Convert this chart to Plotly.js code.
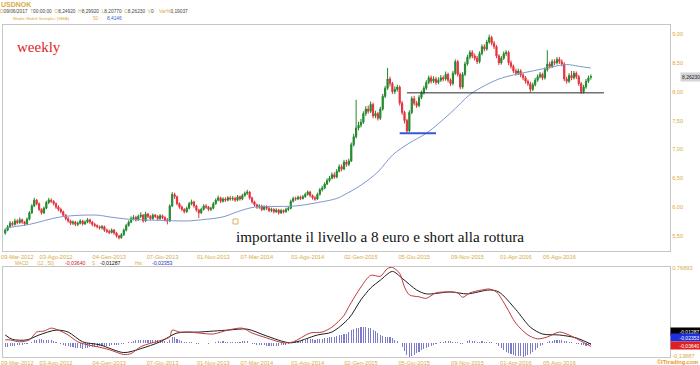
<!DOCTYPE html>
<html>
<head>
<meta charset="utf-8">
<script src="https://cdn.plot.ly/plotly-3.0.1.min.js"></script>
<style>html,body{margin:0;padding:0;background:#fff;}#chart{width:700px;height:365px;}</style>
</head>
<body>
<div id="chart"></div>
<script>
// ---------- DATA (weekly USDNOK) ----------
const open = [
5.55,5.60,5.66,5.72,5.70,5.76,5.73,5.78,5.74,5.71,
5.79,5.90,6.02,6.12,6.06,5.96,5.90,5.98,6.08,6.12,
6.10,6.06,6.00,5.96,5.92,5.86,5.80,5.76,5.72,5.74,
5.70,5.72,5.76,5.71,5.74,5.78,5.74,5.70,5.68,5.66,
5.64,5.66,5.60,5.58,5.56,5.60,5.55,5.50,5.47,5.52,
5.60,5.68,5.74,5.80,5.82,5.78,5.84,5.86,5.76,5.88,
5.84,5.80,5.86,5.84,5.80,5.85,5.82,5.78,5.76,6.02,
6.22,6.18,6.06,6.00,5.96,5.92,5.98,6.06,6.09,6.02,
5.95,5.90,5.96,6.02,6.00,5.96,5.98,6.06,6.12,6.16,
6.10,6.14,6.12,6.16,6.14,6.15,6.12,6.18,6.14,6.20,
6.24,6.26,6.16,6.09,6.04,6.00,6.02,5.96,6.00,5.98,
5.94,5.96,5.92,5.95,5.90,5.94,5.92,5.96,5.98,6.10,
6.15,6.14,6.17,6.15,6.18,6.22,6.26,6.20,6.16,6.14,
6.22,6.30,6.33,6.40,6.46,6.50,6.56,6.52,6.62,6.70,
6.66,6.78,6.74,6.80,7.08,7.22,7.37,7.42,7.47,7.62,
7.70,7.66,7.78,7.58,7.62,7.54,7.70,7.92,8.06,8.22,
8.14,8.00,8.04,8.08,7.80,7.64,7.50,7.32,7.64,7.88,
7.80,7.76,7.90,7.98,8.06,8.16,8.24,8.18,8.22,8.16,
8.20,8.24,8.22,8.30,8.20,8.14,8.32,8.52,8.30,8.08,
8.30,8.48,8.60,8.68,8.62,8.58,8.52,8.66,8.78,8.74,
8.86,8.94,8.84,8.78,8.62,8.50,8.58,8.66,8.68,8.50,
8.44,8.36,8.32,8.36,8.29,8.24,8.18,8.14,8.04,8.12,
8.20,8.26,8.30,8.24,8.38,8.48,8.44,8.52,8.50,8.56,
8.52,8.48,8.22,8.18,8.28,8.24,8.32,8.26,8.14,8.00,
8.08,8.18,8.2492];
const high = [
5.63,5.69,5.76,5.75,5.80,5.79,5.82,5.80,5.76,5.82,
5.93,6.05,6.16,6.14,6.08,5.98,6.01,6.11,6.16,6.15,
6.12,6.08,6.03,5.99,5.94,5.88,5.83,5.78,5.77,5.76,
5.75,5.79,5.78,5.77,5.81,5.80,5.76,5.73,5.70,5.68,
5.69,5.68,5.63,5.61,5.63,5.62,5.57,5.52,5.55,5.63,
5.71,5.77,5.84,5.86,5.85,5.87,5.91,5.88,5.92,5.90,
5.86,5.89,5.88,5.86,5.88,5.87,5.84,5.81,6.05,6.26,
6.25,6.20,6.08,6.03,5.98,6.01,6.09,6.13,6.11,6.04,
5.97,5.99,6.05,6.05,6.02,6.01,6.09,6.15,6.20,6.18,
6.17,6.17,6.19,6.19,6.19,6.18,6.21,6.20,6.23,6.27,
6.30,6.28,6.18,6.11,6.06,6.05,6.04,6.03,6.03,6.00,
5.99,5.98,5.98,5.97,5.97,5.96,5.99,6.01,6.13,6.18,
6.18,6.20,6.20,6.21,6.25,6.29,6.28,6.22,6.19,6.25,
6.33,6.37,6.43,6.50,6.54,6.60,6.60,6.66,6.74,6.74,
6.82,6.82,6.84,7.12,7.27,7.86,7.48,7.53,7.66,7.75,
7.76,7.83,7.81,7.67,7.65,7.74,7.96,8.10,8.41,8.26,
8.17,8.09,8.12,8.11,7.84,7.67,7.53,7.68,7.92,7.93,
7.84,7.94,8.02,8.10,8.20,8.28,8.28,8.27,8.26,8.25,
8.29,8.28,8.35,8.33,8.23,8.36,8.56,8.55,8.33,8.34,
8.52,8.64,8.72,8.72,8.66,8.62,8.70,8.82,8.82,8.90,
8.99,8.97,8.88,8.81,8.65,8.62,8.70,8.72,8.71,8.54,
8.47,8.40,8.40,8.39,8.32,8.27,8.21,8.17,8.16,8.24,
8.30,8.34,8.33,8.42,8.72,8.52,8.56,8.56,8.60,8.60,
8.56,8.51,8.26,8.32,8.36,8.36,8.35,8.29,8.17,8.12,
8.22,8.28,8.2992];
const low = [
5.52,5.58,5.64,5.67,5.68,5.70,5.71,5.71,5.68,5.69,
5.77,5.88,6.00,6.03,5.93,5.87,5.88,5.96,6.05,6.07,
6.03,5.97,5.93,5.89,5.83,5.77,5.73,5.69,5.69,5.67,
5.67,5.70,5.68,5.69,5.72,5.71,5.67,5.65,5.63,5.61,
5.61,5.57,5.55,5.53,5.54,5.52,5.47,5.44,5.45,5.50,
5.58,5.66,5.72,5.77,5.75,5.76,5.81,5.73,5.74,5.81,
5.77,5.78,5.81,5.77,5.78,5.79,5.75,5.70,5.74,6.00,
6.14,6.03,5.97,5.93,5.89,5.90,5.96,6.03,5.99,5.92,
5.81,5.88,5.94,5.97,5.93,5.93,5.96,6.04,6.10,6.07,
6.08,6.09,6.10,6.11,6.11,6.09,6.10,6.11,6.12,6.18,
6.21,6.13,6.06,6.01,5.97,5.97,5.93,5.94,5.95,5.91,
5.91,5.89,5.90,5.87,5.88,5.89,5.90,5.93,5.96,6.08,
6.11,6.12,6.12,6.13,6.16,6.20,6.17,6.13,6.11,6.12,
6.20,6.27,6.31,6.38,6.43,6.48,6.49,6.50,6.60,6.62,
6.64,6.70,6.71,6.78,7.05,7.19,7.33,7.38,7.44,7.58,
7.62,7.63,7.54,7.54,7.50,7.51,7.67,7.89,8.03,8.09,
7.96,7.96,8.00,7.76,7.60,7.45,7.28,7.30,7.61,7.76,
7.72,7.73,7.87,7.95,8.03,8.13,8.14,8.15,8.12,8.13,
8.17,8.18,8.19,8.16,8.10,8.11,8.29,8.26,8.04,8.05,
8.27,8.45,8.56,8.58,8.54,8.48,8.49,8.63,8.70,8.71,
8.83,8.80,8.74,8.58,8.46,8.47,8.55,8.62,8.46,8.40,
8.32,8.28,8.29,8.25,8.20,8.14,8.10,7.99,8.01,8.09,
8.17,8.23,8.20,8.21,8.35,8.40,8.41,8.46,8.47,8.48,
8.44,8.18,8.14,8.15,8.20,8.21,8.22,8.10,7.96,7.97,
8.05,8.15,8.2077];
const close = [
5.60,5.66,5.72,5.70,5.76,5.73,5.78,5.74,5.71,5.79,
5.90,6.02,6.12,6.06,5.96,5.90,5.98,6.08,6.12,6.10,
6.06,6.00,5.96,5.92,5.86,5.80,5.76,5.72,5.74,5.70,
5.72,5.76,5.71,5.74,5.78,5.74,5.70,5.68,5.66,5.64,
5.66,5.60,5.58,5.56,5.60,5.55,5.50,5.47,5.52,5.60,
5.68,5.74,5.80,5.82,5.78,5.84,5.86,5.76,5.88,5.84,
5.80,5.86,5.84,5.80,5.85,5.82,5.78,5.76,6.02,6.22,
6.18,6.06,6.00,5.96,5.92,5.98,6.06,6.09,6.02,5.95,
5.90,5.96,6.02,6.00,5.96,5.98,6.06,6.12,6.16,6.10,
6.14,6.12,6.16,6.14,6.15,6.12,6.18,6.14,6.20,6.24,
6.26,6.16,6.09,6.04,6.00,6.02,5.96,6.00,5.98,5.94,
5.96,5.92,5.95,5.90,5.94,5.92,5.96,5.98,6.10,6.15,
6.14,6.17,6.15,6.18,6.22,6.26,6.20,6.16,6.14,6.22,
6.30,6.33,6.40,6.46,6.50,6.56,6.52,6.62,6.70,6.66,
6.78,6.74,6.80,7.08,7.22,7.37,7.42,7.47,7.62,7.70,
7.66,7.78,7.58,7.62,7.54,7.70,7.92,8.06,8.22,8.14,
8.00,8.04,8.08,7.80,7.64,7.50,7.32,7.64,7.88,7.80,
7.76,7.90,7.98,8.06,8.16,8.24,8.18,8.22,8.16,8.20,
8.24,8.22,8.30,8.20,8.14,8.32,8.52,8.30,8.08,8.30,
8.48,8.60,8.68,8.62,8.58,8.52,8.66,8.78,8.74,8.86,
8.94,8.84,8.78,8.62,8.50,8.58,8.66,8.68,8.50,8.44,
8.36,8.32,8.36,8.29,8.24,8.18,8.14,8.04,8.12,8.20,
8.26,8.30,8.24,8.38,8.48,8.44,8.52,8.50,8.56,8.52,
8.48,8.22,8.18,8.28,8.24,8.32,8.26,8.14,8.00,8.08,
8.18,8.24,8.2623];

// SMA 50 (sampled points along the drawn curve: week index / value)
const smaIdx = [0,1,10,23,38,43,51,56,64,75,81,90,96,103,110,120,128,137,140,147,154,160,167,174,184,192,197,204,210,218,226,232,237,242];
const smaVal = [5.62,5.64,5.70,5.83,5.86,5.83,5.79,5.78,5.77,5.76,5.78,5.83,5.92,6.00,6.01,6.02,6.07,6.15,6.21,6.38,6.61,6.90,7.11,7.28,7.63,7.95,8.08,8.22,8.29,8.36,8.43,8.47,8.44,8.41];

// MACD (12,50) line, signal line (sampled), histogram (weekly)
const macdIdx = [0,2,6,10,13,16,19,22,26,30,34,38,43,49,52,56,60,65,68,69,72,76,80,86,92,98,102,108,115,119,126,131,135,140,142,147,151,155,158,160,163,165,167,171,174,178,184,187,189,192,197,200,203,207,211,216,220,224,229,233,237,242];
const macdVal = [0.03,0.03,0.01,0.03,0.11,0.12,0.15,0.13,0.08,0.01,-0.02,-0.04,-0.07,-0.12,-0.11,-0.04,-0.005,0.03,0.06,0.13,0.11,0.11,0.10,0.09,0.13,0.15,0.10,0.05,0.00,0.01,0.10,0.11,0.16,0.28,0.37,0.57,0.69,0.68,0.76,0.77,0.71,0.57,0.49,0.47,0.455,0.51,0.52,0.51,0.465,0.51,0.54,0.55,0.52,0.37,0.20,0.08,0.04,0.06,0.11,0.08,0.03,-0.0364];
const sigIdx = [0,3,9,14,21,26,32,39,49,56,64,71,80,92,100,108,118,129,135,142,147,151,155,160,164,170,174,184,191,200,204,211,217,222,229,236,242];
const sigVal = [0.08,0.035,0.03,0.08,0.13,0.11,0.01,-0.02,-0.10,-0.06,0.01,0.10,0.11,0.13,0.14,0.07,0.00,0.08,0.11,0.25,0.44,0.56,0.64,0.73,0.66,0.54,0.50,0.52,0.50,0.54,0.52,0.34,0.16,0.09,0.08,0.05,-0.0129];
const hist = [
-0.04,-0.04,-0.035,-0.03,-0.03,-0.025,-0.02,-0.02,-0.015,-0.01,
0.0,0.01,0.025,0.03,0.035,0.035,0.03,0.03,0.03,0.025,
0.02,0.01,0.0,-0.01,-0.02,-0.03,-0.035,-0.04,-0.045,-0.05,
-0.055,-0.055,-0.06,-0.055,-0.05,-0.045,-0.045,-0.04,-0.04,-0.035,
-0.035,-0.03,-0.03,-0.03,-0.025,-0.025,-0.02,-0.02,-0.015,-0.01,
-0.005,0.005,0.01,0.02,0.025,0.03,0.03,0.025,0.03,0.03,
0.025,0.03,0.03,0.025,0.02,0.02,0.015,0.01,0.03,0.06,
0.055,0.04,0.03,0.02,0.01,0.005,0.005,0.01,0.0,-0.01,
-0.01,-0.005,0.0,0.0,-0.01,-0.005,0.0,0.01,0.015,0.01,
0.015,0.01,0.01,0.01,0.01,0.005,0.01,0.01,0.015,0.015,
0.015,0.0,-0.01,-0.015,-0.02,-0.02,-0.025,-0.025,-0.03,-0.03,
-0.03,-0.03,-0.03,-0.03,-0.025,-0.02,-0.02,-0.01,0.0,0.01,
0.015,0.02,0.02,0.025,0.03,0.035,0.04,0.035,0.03,0.035,
0.04,0.04,0.045,0.05,0.055,0.06,0.06,0.07,0.075,0.08,
0.09,0.095,0.11,0.13,0.14,0.15,0.155,0.16,0.165,0.16,
0.155,0.15,0.13,0.12,0.10,0.08,0.07,0.06,0.06,0.055,
0.05,0.03,0.02,0.0,-0.04,-0.08,-0.12,-0.14,-0.13,-0.12,
-0.10,-0.09,-0.07,-0.06,-0.05,-0.04,-0.03,-0.02,-0.01,0.0,
0.005,0.01,0.015,0.02,0.015,0.01,0.01,0.005,-0.01,-0.01,
0.0,0.02,0.025,0.02,0.015,0.01,0.01,0.015,0.01,0.01,
0.01,0.005,0.0,-0.01,-0.03,-0.05,-0.07,-0.09,-0.10,-0.11,
-0.12,-0.13,-0.13,-0.13,-0.14,-0.13,-0.12,-0.11,-0.09,-0.07,
-0.05,-0.03,-0.02,0.0,0.01,0.015,0.02,0.025,0.03,0.03,
0.025,0.02,0.015,0.01,0.005,-0.005,-0.01,-0.015,-0.02,-0.025,
-0.03,-0.025,-0.02353];

// Hand-drawn levels (week index / price)
const supportX = [163, 178], supportY = [7.28, 7.28];
const levelX = [166, 247.4], levelY = [7.98, 7.98];

// Axis ticks
const tickIdx  = [21, 43, 65, 86, 104, 125, 147, 169, 191, 211, 229];
const tickText = ['03-Ago-2012','04-Gen-2013','07-Giu-2013','01-Nov-2013','07-Mar-2014','01-Ago-2014','02-Gen-2015','05-Giu-2015','09-Nov-2015','01-Apr-2016','05-Ago-2016'];
const firstTick = '09-Mar-2012';
const priceTicks = [5.5, 6.0, 6.5, 7.0, 7.5, 8.0, 8.5, 9.0];
const macdTicks = [-0.13887, 0.76893];
const macdTickText = ['-0,13887', '0,76893'];

// ---------- LAYOUT HELPERS ----------
const W = 700, H = 365;
const M = {l: 3, r: 30, t: 25, b: 8};
const PW = W - M.l - M.r, PH = H - M.t - M.b;
const px = x => (x - M.l) / PW;
const py = y => (H - M.b - y) / PH;

const GOLD = '#d9aa45';
const SANS = 'Liberation Sans, Arial, sans-serif';
const SERIF = 'Liberation Serif, Times New Roman, serif';
const idx = close.map((_, i) => i);

const traces = [
  {type: 'scatter', mode: 'lines', x: smaIdx, y: smaVal, xaxis: 'x', yaxis: 'y',
   line: {color: '#7d97cc', width: 1, shape: 'spline', smoothing: 1}, hoverinfo: 'skip'},
  {type: 'candlestick', x: idx, open: open, high: high, low: low, close: close,
   xaxis: 'x', yaxis: 'y', whiskerwidth: 0,
   increasing: {line: {color: '#22882c', width: 1}, fillcolor: '#22882c'},
   decreasing: {line: {color: '#e5323c', width: 1}, fillcolor: '#e5323c'},
   hoverinfo: 'skip'},
  {type: 'scatter', mode: 'lines', x: levelX, y: levelY, xaxis: 'x', yaxis: 'y',
   line: {color: '#2a2a2a', width: 1}, hoverinfo: 'skip'},
  {type: 'scatter', mode: 'lines', x: supportX, y: supportY, xaxis: 'x', yaxis: 'y',
   line: {color: '#3558d6', width: 2}, hoverinfo: 'skip'},
  {type: 'bar', x: idx, y: hist, xaxis: 'x2', yaxis: 'y2', width: 0.45,
   marker: {color: '#7c7cca', line: {width: 0}}, hoverinfo: 'skip'},
  {type: 'scatter', mode: 'lines', x: sigIdx, y: sigVal, xaxis: 'x2', yaxis: 'y2',
   line: {color: '#1e1e1e', width: 1, shape: 'spline', smoothing: 0.8}, hoverinfo: 'skip'},
  {type: 'scatter', mode: 'lines', x: macdIdx, y: macdVal, xaxis: 'x2', yaxis: 'y2',
   line: {color: '#c03a3a', width: 1, shape: 'spline', smoothing: 0.8}, hoverinfo: 'skip'}
];

const axisFont = {family: SANS, size: 5.7, color: GOLD};
const xBase = {
  range: [-0.91, 274.7], tickvals: tickIdx, ticktext: tickText, tickfont: axisFont,
  showgrid: false, zeroline: false, showline: true, mirror: true, linecolor: '#c6c6c6',
  linewidth: 1, ticks: '', fixedrange: true, rangeslider: {visible: false}, tickangle: 0
};
const yBase = {
  side: 'right', showgrid: false, zeroline: false, showline: true, mirror: true,
  linecolor: '#c6c6c6', linewidth: 1, ticks: '', fixedrange: true, tickfont: axisFont
};

const g = s => '<span style="color:' + GOLD + '">' + s + '</span>';
const gap = '&nbsp;&nbsp;';
const headerLine = g('D') + '09/06/2017' + gap + g('T') + '00:00:00' + gap + g('O') + '8,24920' + gap +
  g('H') + '8,29920' + gap + g('L') + '8,20770' + gap + g('C') + '8,26230' + gap + g('V') + '0' +
  gap + gap + g('Var%') + '0,19037';

// text annotations: [text, color, xpx, ypx, size, bold, family]
const texts = [
  ['USDNOK', GOLD, 0, 4.5, 7, true],
  [headerLine, '#444', -1, 12, 4.8],
  ['Medie Mobili Semplici (SMA)', GOLD, 12, 18.5, 4.4],
  ['50 :', GOLD, 92, 18.5, 4.6], ['8,4146', '#3a5cc0', 106, 18.5, 4.8],
  ['MACD', GOLD, 14, 263, 4.6], ['(12 , 50) :', GOLD, 36, 263, 4.6],
  ['-0,03640', '#cc2222', 64, 263, 5.2], ['S :', GOLD, 91, 263, 4.6],
  ['-0,01287', '#111', 99, 263, 5.2], ['Hst :', GOLD, 134, 263, 4.6],
  ['-0,02353', '#2035c0', 151, 263, 5.2],
  ['weekly', '#e0231f', 16, 47, 15, false, SERIF],
  ['importante il livello a 8 euro e short alla rottura', '#111', 235, 237, 15.2, false, SERIF]
];
const annotations = texts.map(t => ({
  xref: 'paper', yref: 'paper', x: px(t[2]), y: py(t[3]), xanchor: 'left', yanchor: 'middle',
  text: t[5] ? '<b>' + t[0] + '</b>' : t[0], showarrow: false, borderpad: 0,
  font: {family: t[6] || SANS, size: t[4], color: t[1]}
}));
// first date label on both panels (kept fully visible at the left edge)
[256.5, 362.5].forEach(yy => annotations.push({
  xref: 'paper', yref: 'paper', x: 0 - M.l / PW, y: py(yy), xanchor: 'left', yanchor: 'middle',
  text: firstTick, showarrow: false, borderpad: 0, font: axisFont
}));
// last price tag
annotations.push({xref: 'paper', yref: 'y', x: px(680), y: close[close.length - 1],
  xanchor: 'left', yanchor: 'middle', text: '8,26230', showarrow: false, bgcolor: '#d4d4d4',
  borderpad: 1, font: {family: SANS, size: 5, color: '#222'}});
// MACD value tags
[['-0,01287', '#000', 331], ['-0,02353', '#1f2fe0', 337.5], ['-0,03640', '#e02020', 345]].forEach(b =>
  annotations.push({xref: 'paper', yref: 'paper', x: px(670), y: py(b[2]), xanchor: 'left',
    yanchor: 'middle', text: b[0], showarrow: false, bgcolor: b[1], width: 28, align: 'right',
    borderpad: 0.5, font: {family: SANS, size: 5, color: '#fff'}}));
annotations.push({xref: 'paper', yref: 'paper', x: px(699), y: py(362), xanchor: 'right',
  yanchor: 'middle', text: '<b>©ITtrading.com</b>', showarrow: false, borderpad: 0,
  font: {family: SANS, size: 5.6, color: '#e59a1e'}});

const layout = {
  width: W, height: H, margin: {l: M.l, r: M.r, t: M.t, b: M.b, pad: 0},
  paper_bgcolor: '#fff', plot_bgcolor: '#fff', showlegend: false, separators: ',.',
  hovermode: false, dragmode: false, bargap: 0,
  xaxis: Object.assign({}, xBase, {domain: [0, 1], anchor: 'y'}),
  yaxis: Object.assign({}, yBase, {domain: [py(251), 1], range: [5.239, 9.156],
    tickvals: priceTicks, tickformat: '.2f', anchor: 'x'}),
  xaxis2: Object.assign({}, xBase, {domain: [0, 1], anchor: 'y2'}),
  yaxis2: Object.assign({}, yBase, {domain: [0, py(267)], range: [-0.145, 0.775],
    tickvals: macdTicks, ticktext: macdTickText, anchor: 'x2'}),
  annotations: annotations,
  shapes: [{type: 'rect', xref: 'paper', yref: 'paper', x0: px(233), x1: px(238),
    y0: py(224), y1: py(219), line: {color: '#e0b060', width: 1}, fillcolor: '#fff'}]
};

Plotly.newPlot('chart', traces, layout, {staticPlot: true, displayModeBar: false});
</script>
</body>
</html>
